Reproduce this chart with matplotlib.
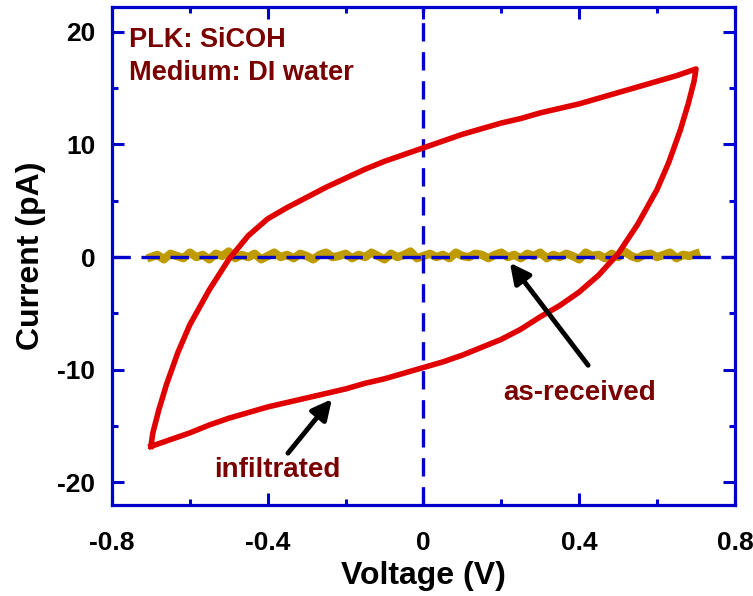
import numpy as np
import matplotlib
matplotlib.use('Agg')
import matplotlib.pyplot as plt
from matplotlib.ticker import MultipleLocator

plt.rcParams['font.family'] = ['Liberation Sans', 'DejaVu Sans']
plt.rcParams['font.weight'] = 'bold'

# infiltrated sample: lower branch (sweep up), then upper branch (sweep down)
infil_up_v = [-0.70, -0.65, -0.60, -0.55, -0.50, -0.45, -0.40, -0.35, -0.30, -0.25,
              -0.20, -0.15, -0.10, -0.05, 0.00, 0.05, 0.10, 0.15, 0.20, 0.25,
              0.30, 0.35, 0.40, 0.45, 0.50, 0.55, 0.60, 0.63, 0.66, 0.68,
              0.695, 0.70]
infil_up_i = [-16.8, -16.2, -15.6, -14.9, -14.3, -13.8, -13.3, -12.9, -12.5, -12.1,
              -11.7, -11.2, -10.8, -10.3, -9.8, -9.3, -8.7, -8.0, -7.3, -6.4,
              -5.3, -4.3, -3.1, -1.6, 0.3, 2.9, 6.0, 8.4, 11.3, 13.6,
              15.6, 16.7]
infil_down_v = [0.70, 0.65, 0.60, 0.55, 0.50, 0.45, 0.40, 0.35, 0.30, 0.25,
                0.20, 0.15, 0.10, 0.05, 0.00, -0.05, -0.10, -0.15, -0.20, -0.25,
                -0.30, -0.35, -0.40, -0.45, -0.50, -0.55, -0.60, -0.63, -0.66, -0.68,
                -0.695, -0.70]
infil_down_i = [16.7, 16.1, 15.6, 15.1, 14.6, 14.1, 13.6, 13.2, 12.8, 12.3,
                11.9, 11.4, 10.9, 10.3, 9.7, 9.1, 8.5, 7.8, 7.0, 6.2,
                5.3, 4.4, 3.4, 1.9, -0.2, -2.9, -6.0, -8.4, -11.3, -13.6,
                -15.6, -16.8]

# as-received sample: flat noisy trace around 0 pA
asrec_i = [0.0, 0.2, -0.2, 0.3, 0.1, -0.1, 0.4, 0.0, 0.2, -0.2, 0.3, 0.1, 0.5, -0.1,
           0.2, 0.0, 0.3, -0.2, 0.1, 0.4, 0.0, 0.2, -0.1, 0.3, 0.1, -0.2, 0.2, 0.4,
           0.0, 0.1, 0.3, -0.1, 0.2, 0.0, 0.4, 0.1, -0.2, 0.3, 0.0, 0.2, 0.5, -0.1,
           0.1, 0.3, 0.0, 0.2, -0.1, 0.4, 0.1, 0.0, 0.3, 0.2, -0.1, 0.2, 0.4, 0.0,
           0.2, -0.1, 0.3, 0.1, 0.4, -0.1, 0.2, 0.0, 0.3, 0.1, -0.2, 0.4, 0.1, 0.2,
           -0.1, 0.3, 0.0, 0.5, 0.1, -0.1, 0.2, 0.3, 0.0, 0.2, 0.4, -0.1, 0.2, 0.1, 0.3]
asrec_v = np.linspace(-0.7, 0.7, len(asrec_i))

blue = '#0000cc'
dark_red = '#7a0000'

fig = plt.figure(figsize=(7.53, 5.96), dpi=100)
ax = fig.add_axes([0.1487, 0.1527, 0.8273, 0.8356])

ax.plot(asrec_v, asrec_i, color='#bf9b00', lw=6.0, zorder=2)
ax.axhline(0, color=blue, lw=2.4, dashes=(5.5, 3.2), zorder=3)
ax.axvline(0, color=blue, lw=2.4, dashes=(5.5, 3.2), zorder=3)
ax.plot(infil_up_v + infil_down_v, infil_up_i + infil_down_i,
        color='#e00000', lw=4.0, zorder=4)

ax.set_xlim(-0.8, 0.8)
ax.set_ylim(-22, 22.2)
ax.xaxis.set_minor_locator(MultipleLocator(0.2))
ax.yaxis.set_minor_locator(MultipleLocator(5))
ax.set_xticks([-0.8, -0.4, 0, 0.4, 0.8])
ax.set_xticklabels(['-0.8', '-0.4', '0', '0.4', '0.8'])
ax.set_yticks([-20, -10, 0, 10, 20])
ax.set_yticklabels(['-20', '-10', '0', '10', '20'])

for s in ax.spines.values():
    s.set_color(blue)
    s.set_linewidth(2.3)
ax.tick_params(which='both', direction='in', top=True, right=True, color=blue)
ax.tick_params(which='major', length=8.6, width=2.2, labelsize=19)
ax.tick_params(which='minor', length=4.3, width=2.2)
ax.tick_params(axis='x', which='major', pad=19)
ax.tick_params(axis='y', which='major', pad=12)

ax.set_xlabel('Voltage (V)', fontsize=23, fontweight='bold', labelpad=4)
ax.set_ylabel('Current (pA)', fontsize=23, fontweight='bold', labelpad=8)

ax.text(0.027, 0.934, 'PLK: SiCOH', transform=ax.transAxes, fontsize=19.5,
        fontweight='bold', color=dark_red, va='center', ha='left')
ax.text(0.027, 0.867, 'Medium: DI water', transform=ax.transAxes, fontsize=19.5,
        fontweight='bold', color=dark_red, va='center', ha='left')

arrow = dict(arrowstyle='-|>', lw=3.5, color='black', mutation_scale=30,
             shrinkA=0, shrinkB=0)
ax.annotate('', xy=(-0.235, -12.6), xytext=(-0.348, -17.4), arrowprops=arrow, zorder=5)
ax.text(-0.376, -18.9, 'infiltrated', fontsize=20, fontweight='bold',
        color=dark_red, ha='center', va='center')
ax.annotate('', xy=(0.222, -0.5), xytext=(0.423, -9.6), arrowprops=arrow, zorder=5)
ax.text(0.402, -12.1, 'as-received', fontsize=20, fontweight='bold',
        color=dark_red, ha='center', va='center')

fig.savefig('out.png', dpi=100)
